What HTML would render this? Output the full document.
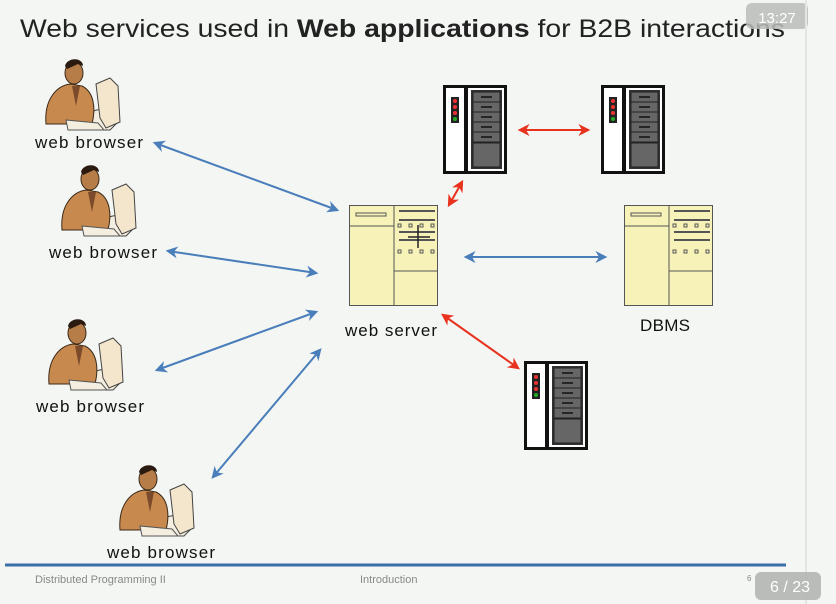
<!DOCTYPE html>
<html><head><meta charset="utf-8"><style>
html,body{margin:0;padding:0;background:#f3f6f3;}
svg{display:block;font-family:"Liberation Sans",sans-serif;}
</style></head><body>
<svg width="836" height="604" viewBox="0 0 836 604" xmlns="http://www.w3.org/2000/svg">
<defs>
<marker id="bh" viewBox="0 0 10 10" refX="8" refY="5" markerWidth="6" markerHeight="6" orient="auto-start-reverse"><path d="M0,0 L10,5 L0,10 L3,5 z" fill="#4a7ebb"/></marker>
<marker id="rh" viewBox="0 0 10 10" refX="8" refY="5" markerWidth="6" markerHeight="6" orient="auto-start-reverse"><path d="M0,0 L10,5 L0,10 L3,5 z" fill="#e8321e"/></marker>
<g id="rack">
<rect x="1.5" y="1.5" width="61" height="86" fill="#fff" stroke="#111" stroke-width="3"/>
<rect x="21" y="2" width="4" height="85" fill="#111"/>
<rect x="8" y="12" width="8" height="26" fill="#222"/>
<circle cx="12" cy="16" r="2" fill="#e33"/><circle cx="12" cy="22" r="2" fill="#e33"/><circle cx="12" cy="28" r="2" fill="#e33"/><circle cx="12" cy="34" r="2" fill="#2a2"/>
<rect x="28" y="5" width="31" height="79" fill="#333"/>
<g fill="#666" stroke="#222">
<rect x="30" y="7" width="27" height="10"/><rect x="30" y="17" width="27" height="10"/><rect x="30" y="27" width="27" height="10"/><rect x="30" y="37" width="27" height="10"/><rect x="30" y="47" width="27" height="10"/><rect x="30" y="58" width="27" height="24"/></g>
<g stroke="#111" stroke-width="1.5"><line x1="38" y1="12" x2="49" y2="12"/><line x1="38" y1="22" x2="49" y2="22"/><line x1="38" y1="32" x2="49" y2="32"/><line x1="38" y1="42" x2="49" y2="42"/><line x1="38" y1="52" x2="49" y2="52"/></g>
</g>
<g id="box">
<rect x="0.5" y="0.5" width="88" height="100" fill="#f7f3b8" stroke="#555"/>
<line x1="45" y1="0.5" x2="45" y2="100.5" stroke="#555"/>
<line x1="0.5" y1="21" x2="45" y2="21" stroke="#555"/>
<line x1="45" y1="66" x2="88.5" y2="66" stroke="#555"/>
<rect x="7" y="8" width="30" height="3" fill="none" stroke="#555"/>
<g stroke="#555" stroke-width="2"><line x1="50" y1="6" x2="86" y2="6"/><line x1="50" y1="15" x2="86" y2="15"/><line x1="50" y1="27" x2="86" y2="27"/><line x1="50" y1="35" x2="86" y2="35"/></g>
<g fill="none" stroke="#555"><rect x="49" y="19" width="3" height="3"/><rect x="60" y="19" width="3" height="3"/><rect x="71" y="19" width="3" height="3"/><rect x="82" y="19" width="3" height="3"/><rect x="49" y="45" width="3" height="3"/><rect x="60" y="45" width="3" height="3"/><rect x="71" y="45" width="3" height="3"/><rect x="82" y="45" width="3" height="3"/></g>
</g>
<g id="person">
<path d="M40,60 C48,44 70,48 74,62 L66,70 L40,70 z" fill="#f4eee0" stroke="#444"/>
<path d="M52,24 L66,18 L74,26 L76,62 L62,68 L56,58 z" fill="#f3e6cc" stroke="#444"/>
<path d="M2,64 C0,40 12,26 26,24 L38,26 C50,32 52,48 48,64 z" fill="#c7894e" stroke="#3b2a1a"/>
<ellipse cx="30" cy="13" rx="9" ry="11" fill="#b67d48" stroke="#3b2a1a"/>
<path d="M21,6 C23,-3 39,-3 39,6 L34,4 L23,9 z" fill="#2a1a10"/>
<path d="M28,26 L32,46 L36,26 z" fill="#7a4a2a"/>
<path d="M22,60 L54,63 L60,70 L24,70 z" fill="#f4eee0" stroke="#555"/>
</g>
</defs>

<text x="20" y="37" font-size="25" fill="#222" textLength="765" lengthAdjust="spacingAndGlyphs">Web services used in <tspan font-weight="bold">Web applications</tspan> for B2B interactions</text>
<rect x="746" y="3" width="62" height="26" rx="6" fill="#b9bcb9" opacity="0.85"/>
<text x="777" y="23" font-size="15" fill="#fff" text-anchor="middle">13:27</text>
<line x1="806" y1="0" x2="806" y2="604" stroke="#e2e6e2" stroke-width="2"/>

<use href="#person" x="44" y="60"/>
<use href="#person" x="60" y="166"/>
<use href="#person" x="47" y="320"/>
<use href="#person" x="118" y="466"/>
<g font-size="17" fill="#111" text-anchor="middle" lengthAdjust="spacingAndGlyphs">
<text x="89" y="148" textLength="108">web browser</text>
<text x="103" y="258" textLength="108">web browser</text>
<text x="90" y="412" textLength="108">web browser</text>
<text x="161" y="558" textLength="108">web browser</text>
<text x="391" y="336" textLength="92">web server</text>
<text x="665" y="331" textLength="50">DBMS</text>
</g>

<use href="#rack" x="443" y="85"/>
<use href="#rack" x="601" y="85"/>
<use href="#rack" x="524" y="361"/>
<use href="#box" x="349" y="205"/>
<use href="#box" x="624" y="205"/>
<g stroke="#222" stroke-width="1.5"><line x1="418" y1="225" x2="418" y2="248"/><line x1="408" y1="237" x2="430" y2="237"/></g>

<g stroke="#4a7ebb" stroke-width="2" fill="none" marker-start="url(#bh)" marker-end="url(#bh)">
<line x1="155" y1="143" x2="337" y2="210"/>
<line x1="168" y1="251" x2="316" y2="273"/>
<line x1="157" y1="370" x2="316" y2="312"/>
<line x1="213" y1="477" x2="320" y2="350"/>
<line x1="466" y1="257" x2="605" y2="257"/>
</g>
<g stroke="#e8321e" stroke-width="2" fill="none" marker-start="url(#rh)" marker-end="url(#rh)">
<line x1="520" y1="130" x2="588" y2="130"/>
<line x1="449" y1="205" x2="462" y2="182"/>
<line x1="443" y1="315" x2="518" y2="368"/>
</g>

<line x1="5" y1="565" x2="786" y2="565" stroke="#3b6fa8" stroke-width="3"/>
<g font-size="11" fill="#888">
<text x="35" y="583">Distributed Programming II</text>
<text x="360" y="583">Introduction</text>
<text x="747" y="581" font-size="8">6</text>
</g>
<rect x="755" y="572" width="66" height="28" rx="6" fill="#b3b6b3" opacity="0.9"/>
<text x="790" y="592" font-size="16" fill="#fff" text-anchor="middle">6 / 23</text>
</svg>
</body></html>
